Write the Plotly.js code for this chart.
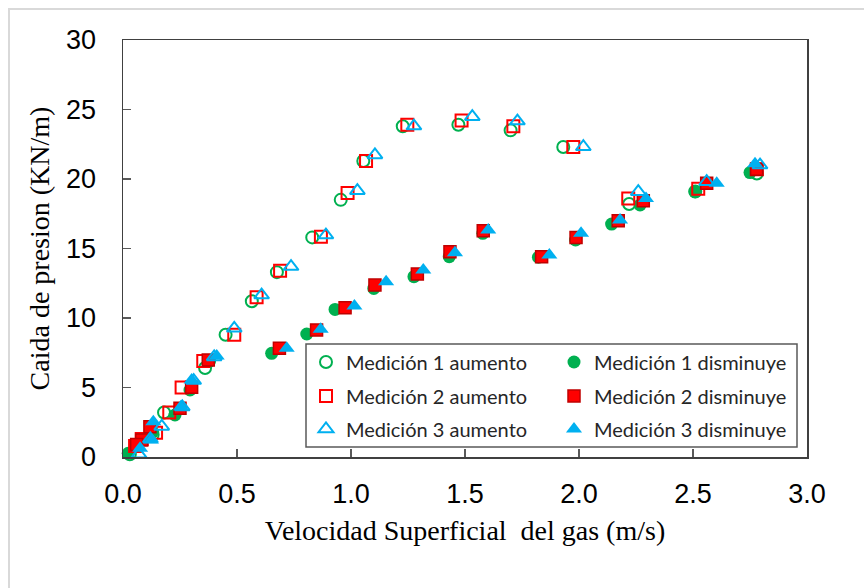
<!DOCTYPE html>
<html>
<head>
<meta charset="utf-8">
<script src="https://cdn.plot.ly/plotly-3.0.1.min.js"></script>
<style>html,body{margin:0;padding:0;background:#fff;}#chart{width:864px;height:588px;}</style>
</head>
<body>
<div id="chart"></div>
<script>
// Medición 1 aumento
const m1aX = [0.03, 0.13, 0.18, 0.36, 0.45, 0.565, 0.675, 0.83, 0.955, 1.054, 1.227, 1.471, 1.70, 1.931, 2.22, 2.51, 2.78];
const m1aY = [0.2, 1.6, 3.2, 6.4, 8.8, 11.2, 13.3, 15.8, 18.5, 21.3, 23.8, 23.9, 23.5, 22.3, 18.2, 19.1, 20.4];
// Medición 2 aumento
const m2aX = [0.053, 0.082, 0.145, 0.203, 0.257, 0.352, 0.488, 0.586, 0.689, 0.868, 0.985, 1.066, 1.247, 1.485, 1.712, 1.975, 2.216, 2.523, 2.78];
const m2aY = [0.8, 1.3, 1.75, 3.2, 5.0, 6.9, 8.8, 11.5, 13.4, 15.85, 19.0, 21.3, 23.9, 24.2, 23.8, 22.3, 18.6, 19.3, 20.7];
// Medición 3 aumento
const m3aX = [0.07, 0.12, 0.17, 0.26, 0.31, 0.40, 0.488, 0.608, 0.737, 0.89, 1.028, 1.105, 1.276, 1.532, 1.73, 2.019, 2.26, 2.56, 2.794];
const m3aY = [0.2, 1.3, 2.2, 3.6, 5.5, 7.2, 9.26, 11.65, 13.7, 15.97, 19.16, 21.73, 23.81, 24.48, 24.17, 22.32, 19.09, 19.81, 21.0];
// Medición 1 disminuye
const m1dX = [2.75, 2.509, 2.268, 2.143, 1.985, 1.822, 1.578, 1.431, 1.276, 1.1, 0.93, 0.806, 0.652, 0.38, 0.294, 0.228, 0.13, 0.023];
const m1dY = [20.46, 19.09, 18.13, 16.76, 15.61, 14.37, 16.09, 14.41, 12.97, 12.13, 10.62, 8.85, 7.46, 6.9, 4.82, 3.02, 1.8, 0.27];
// Medición 2 disminuye
const m2dX = [2.779, 2.56, 2.282, 2.172, 1.987, 1.836, 1.58, 1.434, 1.291, 1.105, 0.974, 0.849, 0.686, 0.374, 0.301, 0.25, 0.118, 0.082, 0.06];
const m2dY = [20.7, 19.69, 18.44, 17.0, 15.8, 14.41, 16.28, 14.77, 13.17, 12.37, 10.74, 9.14, 7.82, 6.98, 5.01, 3.5, 2.18, 1.22, 0.9];
// Medición 3 disminuye
const m3dX = [2.772, 2.604, 2.294, 2.18, 2.009, 1.87, 1.602, 1.456, 1.317, 1.154, 1.015, 0.867, 0.718, 0.411, 0.301, 0.254, 0.133, 0.123, 0.075];
const m3dY = [21.1, 19.69, 18.6, 17.05, 16.09, 14.53, 16.33, 14.7, 13.45, 12.61, 10.86, 9.19, 7.82, 7.27, 5.54, 3.62, 2.54, 1.22, 0.63];

const xTicks = [0, 0.5, 1.0, 1.5, 2.0, 2.5, 3.0];
const xTickText = ['0.0', '0.5', '1.0', '1.5', '2.0', '2.5', '3.0'];
const yTicks = [0, 5, 10, 15, 20, 25, 30];

const green = '#00B050', red = '#FF0000', blue = '#00B0F0';

function tr(name, x, y, symbol, color, size, lineColor, lw, leg) {
  return {
    type: 'scatter', mode: 'markers', name: name, x: x, y: y, legend: leg,
    marker: { symbol: symbol, color: color, size: size, line: { color: lineColor, width: lw } },
    cliponaxis: false
  };
}

const data = [
  tr('Medición 1 aumento', m1aX, m1aY, 'circle-open', green, 12, green, 2, 'legend'),
  tr('Medición 1 disminuye', m1dX, m1dY, 'circle', green, 13, green, 0, 'legend'),
  tr('Medición 2 aumento', m2aX, m2aY, 'square-open', red, 12, red, 2, 'legend2'),
  tr('Medición 2 disminuye', m2dX, m2dY, 'square', red, 12, '#C00000', 1.5, 'legend2'),
  tr('Medición 3 aumento', m3aX, m3aY, 'triangle-up-open', blue, 13, blue, 2, 'legend3'),
  tr('Medición 3 disminuye', m3dX, m3dY, 'triangle-up', blue, 14, blue, 0, 'legend3')
];

function leg(yc) {
  return {
    orientation: 'h', x: (306 - 123) / 684, y: yc, xanchor: 'left', yanchor: 'middle',
    xref: 'paper', yref: 'paper',
    entrywidth: 203, entrywidthmode: 'pixels',
    bgcolor: 'rgba(0,0,0,0)', borderwidth: 0,
    font: { family: 'Lato, Carlito, sans-serif', size: 20, color: '#262626' },
    itemwidth: 30
  };
}

const layout = {
  width: 864, height: 588,
  margin: { l: 123, r: 57, t: 40, b: 131 },
  paper_bgcolor: '#fff', plot_bgcolor: '#fff',
  showlegend: true,
  legend: leg((457 - 362) / 417),
  legend2: leg((457 - 396) / 417),
  legend3: leg((457 - 429) / 417),
  xaxis: {
    range: [0, 3], tickvals: xTicks, ticktext: xTickText,
    ticks: 'inside', ticklen: 8, tickwidth: 1.5, tickcolor: '#595959',
    showline: true, linecolor: '#404040', linewidth: 1.5, mirror: true,
    showgrid: false, zeroline: false,
    ticklabelstandoff: 12,
    tickfont: { family: 'Liberation Sans, Arial, sans-serif', size: 27, color: '#000' },
    title: { text: 'Velocidad Superficial  del gas (m/s)', standoff: 12,
      font: { family: 'Liberation Serif, Times New Roman, serif', size: 28, color: '#000' } }
  },
  yaxis: {
    range: [0, 30], tickvals: yTicks,
    ticks: 'inside', ticklen: 8, tickwidth: 1.5, tickcolor: '#595959',
    showline: true, linecolor: '#404040', linewidth: 1.5, mirror: true,
    showgrid: false, zeroline: false,
    ticklabelstandoff: 20,
    tickfont: { family: 'Liberation Sans, Arial, sans-serif', size: 27, color: '#000' },
    title: { text: 'Caida de presion (KN/m)', standoff: 8,
      font: { family: 'Liberation Serif, Times New Roman, serif', size: 28, color: '#000' } }
  },
  shapes: [{
    type: 'rect', xref: 'paper', yref: 'paper',
    x0: (9 - 123) / 684, x1: 1.2, y0: -0.5, y1: 1 + (40 - 9) / 417,
    line: { color: '#D9D9D9', width: 2 }, fillcolor: 'rgba(0,0,0,0)', layer: 'below'
  }, {
    type: 'rect', xref: 'paper', yref: 'paper',
    x0: (306 - 123) / 684, x1: (797 - 123) / 684,
    y0: (457 - 447) / 417, y1: (457 - 344) / 417,
    line: { color: '#595959', width: 1.5 }, fillcolor: '#fff', layer: 'above'
  }]
};

Plotly.newPlot('chart', data, layout, { displayModeBar: false, staticPlot: true });
</script>
</body>
</html>
